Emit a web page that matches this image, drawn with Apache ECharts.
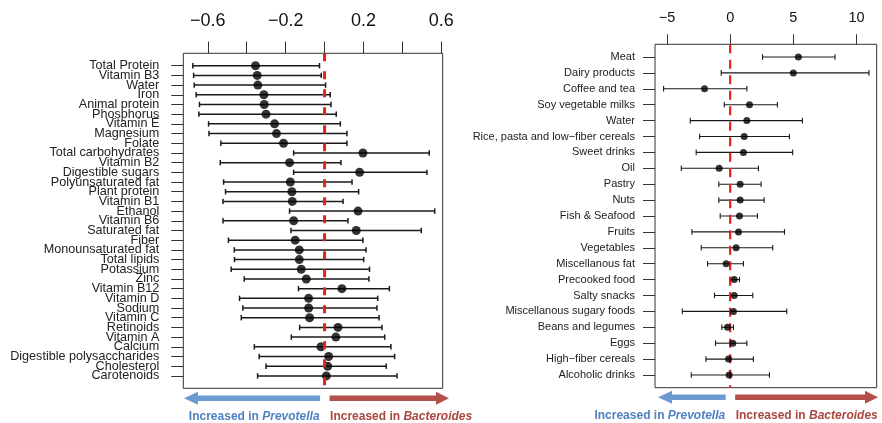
<!DOCTYPE html>
<html>
<head>
<meta charset="utf-8">
<script src="https://cdn.jsdelivr.net/npm/echarts@6/dist/echarts.min.js"></script>
<style>
  html, body { margin: 0; padding: 0; background: #ffffff; }
  #chart { width: 882px; height: 423px; }
</style>
</head>
<body>
<div id="chart"></div>
<script>
// Nutrients: effect estimate with lower / upper interval, listed top to bottom
const nutrients = ['Total Protein', 'Vitamin B3', 'Water', 'Iron', 'Animal protein', 'Phosphorus',
  'Vitamin E', 'Magnesium', 'Folate', 'Total carbohydrates', 'Vitamin B2', 'Digestible sugars',
  'Polyunsaturated fat', 'Plant protein', 'Vitamin B1', 'Ethanol', 'Vitamin B6', 'Saturated fat',
  'Fiber', 'Monounsaturated fat', 'Total lipids', 'Potassium', 'Zinc', 'Vitamin B12', 'Vitamin D',
  'Sodium', 'Vitamin C', 'Retinoids', 'Vitamin A', 'Calcium', 'Digestible polysaccharides',
  'Cholesterol', 'Carotenoids'];
const nutrientEstimate = [-0.355, -0.346, -0.343, -0.312, -0.310, -0.301, -0.257, -0.247, -0.211,
  0.197, -0.180, 0.180, -0.176, -0.168, -0.166, 0.172, -0.159, 0.163, -0.151, -0.130, -0.130,
  -0.120, -0.094, 0.089, -0.082, -0.082, -0.077, 0.069, 0.058, -0.019, 0.021, 0.016, 0.009];
const nutrientLower = [-0.677, -0.673, -0.670, -0.660, -0.643, -0.646, -0.596, -0.594, -0.533,
  -0.159, -0.536, -0.159, -0.519, -0.509, -0.522, -0.180, -0.522, -0.173, -0.494, -0.464, -0.463,
  -0.480, -0.413, -0.134, -0.437, -0.420, -0.428, -0.128, -0.171, -0.361, -0.336, -0.301, -0.344];
const nutrientUpper = [-0.026, -0.017, 0.005, 0.029, 0.033, 0.060, 0.081, 0.115, 0.115,
  0.538, 0.084, 0.526, 0.141, 0.175, 0.095, 0.566, 0.120, 0.497, 0.197, 0.213, 0.201,
  0.231, 0.228, 0.333, 0.273, 0.269, 0.280, 0.295, 0.309, 0.341, 0.360, 0.317, 0.372];
const nutrientTicks = [-0.6, -0.4, -0.2, 0, 0.2, 0.4, 0.6];
const nutrientTickLabels = [-0.6, -0.2, 0.2, 0.6];

// Food groups: effect estimate with lower / upper interval, listed top to bottom
const foods = ['Meat', 'Dairy products', 'Coffee and tea', 'Soy vegetable milks', 'Water',
  'Rice, pasta and low\u2212fiber cereals', 'Sweet drinks', 'Oil', 'Pastry', 'Nuts',
  'Fish & Seafood', 'Fruits', 'Vegetables', 'Miscellanous fat', 'Precooked food', 'Salty snacks',
  'Miscellanous sugary foods', 'Beans and legumes', 'Eggs', 'High\u2212fiber cereals', 'Alcoholic drinks'];
const foodEstimate = [5.40, 5.00, -2.03, 1.53, 1.32, 1.11, 1.05, -0.87, 0.79, 0.79, 0.74, 0.66,
  0.47, -0.32, 0.32, 0.32, 0.26, -0.21, 0.21, -0.13, -0.08];
const foodLower = [2.56, -0.71, -5.27, -0.47, -3.16, -2.42, -2.69, -3.87, -0.90, -0.90, -0.79,
  -3.03, -2.29, -1.79, 0.00, -1.24, -3.79, -0.66, -1.16, -1.92, -3.08];
const foodUpper = [8.30, 10.99, 1.32, 3.74, 5.72, 4.69, 4.95, 2.24, 2.45, 2.69, 2.16, 4.30,
  3.37, 1.05, 0.74, 1.79, 4.48, 0.26, 1.32, 1.84, 3.11];
const foodTicks = [-5, 0, 5, 10];

const INK = '#1a1a1a';
const FRAME = '#333333';
const ZERO_RED = '#e8201c';
const BLUE_ARROW = '#6c9bd2';
const RED_ARROW = '#b4504a';
const BLUE_TEXT = '#4e82c2';
const RED_TEXT = '#a94740';

// Pick a narrow face for the long nutrient names when one is installed
const measureCtx = document.createElement('canvas').getContext('2d');
function textWidth(font, s) { measureCtx.font = font; return measureCtx.measureText(s).width; }
const probe = 'Digestible polysaccharides';
const hasNarrow = textWidth('15px "Liberation Sans Narrow", monospace', probe) !== textWidth('15px monospace', probe);
const nutrientFont = hasNarrow ? '"Liberation Sans Narrow", "Liberation Sans", sans-serif' : '"Liberation Sans", Arial, sans-serif';
const nutrientFontSize = hasNarrow ? 15 : 12.6;
const baseFont = '"Liberation Sans", Arial, Helvetica, sans-serif';

const minusFmt = v => String(v).replace('-', '\u2212');

function rowIndexes(n, parity) {
  return Array.from({ length: n }, (_, i) => i).filter(i => i % 2 === parity);
}

function errorBarRenderer(capHalf, width) {
  return function (params, api) {
    const y = api.value(2);
    const a = api.coord([api.value(0), y]);
    const b = api.coord([api.value(1), y]);
    const style = { stroke: INK, lineWidth: width };
    return {
      type: 'group',
      children: [
        { type: 'line', shape: { x1: a[0], y1: a[1], x2: b[0], y2: b[1] }, style },
        { type: 'line', shape: { x1: a[0], y1: a[1] - capHalf, x2: a[0], y2: a[1] + capHalf }, style },
        { type: 'line', shape: { x1: b[0], y1: b[1] - capHalf, x2: b[0], y2: b[1] + capHalf }, style }
      ]
    };
  };
}

const nPad = 0.04 * (nutrients.length - 1);
const fPad = 0.04 * (foods.length - 1);

const chart = echarts.init(document.getElementById('chart'), null, { renderer: 'canvas' });

function topAxis(gridIndex, min, max, ticks, labels, fontSize, tickLen, margin) {
  return {
    gridIndex, type: 'value', position: 'top', min, max,
    axisLine: { show: false, onZero: false }, splitLine: { show: false },
    axisTick: { show: true, customValues: ticks, length: tickLen, lineStyle: { color: FRAME, width: 1 } },
    axisLabel: { customValues: labels, formatter: minusFmt, fontSize, color: '#111',
      fontFamily: baseFont, margin, showMinLabel: true, showMaxLabel: true }
  };
}

// Row names are packed tightly, so even and odd rows sit on two
// coincident axes; that way no neighbouring names get dropped.
function rowAxisPair(gridIndex, names, pad, fontFamily, fontSize, margin) {
  return [0, 1].map(parity => ({
    gridIndex, type: 'value', position: 'left', inverse: true, min: -pad, max: names.length - 1 + pad,
    axisLine: { show: false, onZero: false }, splitLine: { show: false },
    axisTick: { show: true, customValues: rowIndexes(names.length, parity), length: 12,
      lineStyle: { color: FRAME, width: 1 } },
    axisLabel: { customValues: rowIndexes(names.length, parity), formatter: v => names[Math.round(v)],
      fontSize, fontFamily, color: '#222', margin, showMinLabel: true, showMaxLabel: true }
  }));
}

chart.setOption({
  animation: false,
  backgroundColor: '#ffffff',
  grid: [
    { left: 183.3, top: 53.3, width: 259.4, height: 335, show: true, borderColor: FRAME, borderWidth: 1,
      backgroundColor: 'transparent', containLabel: false, outerBoundsMode: 'none' },
    { left: 655, top: 44.3, width: 221.7, height: 343.4, show: true, borderColor: FRAME, borderWidth: 1,
      backgroundColor: 'transparent', containLabel: false, outerBoundsMode: 'none' }
  ],
  xAxis: [
    topAxis(0, -0.726, 0.607, nutrientTicks, nutrientTickLabels, 18, 11.7, 23),
    topAxis(1, -5.95, 11.6, foodTicks, foodTicks, 14.5, 10, 19)
  ],
  // yAxis 0/1: nutrient rows, yAxis 2/3: food rows
  yAxis: [].concat(
    rowAxisPair(0, nutrients, nPad, nutrientFont, nutrientFontSize, 24),
    rowAxisPair(1, foods, fPad, baseFont, 11, 20)
  ),
  series: [
    {
      type: 'custom', xAxisIndex: 0, yAxisIndex: 0, z: 2,
      renderItem: errorBarRenderer(2.7, 1.5),
      encode: { x: [0, 1], y: 2 },
      data: nutrients.map((_, i) => [nutrientLower[i], nutrientUpper[i], i])
    },
    {
      type: 'scatter', xAxisIndex: 0, yAxisIndex: 0, z: 3,
      symbol: 'circle', symbolSize: 9, itemStyle: { color: '#000' },
      data: nutrientEstimate.map((v, i) => [v, i])
    },
    {
      type: 'line', xAxisIndex: 0, yAxisIndex: 0, z: 4, symbol: 'none', silent: true,
      lineStyle: { color: ZERO_RED, width: 3, type: [8, 10] },
      data: [[0, -nPad], [0, nutrients.length - 1 + nPad]]
    },
    {
      type: 'custom', xAxisIndex: 1, yAxisIndex: 2, z: 2,
      renderItem: errorBarRenderer(2.8, 1.1),
      encode: { x: [0, 1], y: 2 },
      data: foods.map((_, i) => [foodLower[i], foodUpper[i], i])
    },
    {
      type: 'line', xAxisIndex: 1, yAxisIndex: 2, z: 3, symbol: 'none', silent: true,
      lineStyle: { color: ZERO_RED, width: 2.2, type: [9, 6.5] },
      data: [[0, -fPad], [0, foods.length - 1 + fPad]]
    },
    {
      type: 'scatter', xAxisIndex: 1, yAxisIndex: 2, z: 4,
      symbol: 'circle', symbolSize: 7, itemStyle: { color: '#000' },
      data: foodEstimate.map((v, i) => [v, i])
    }
  ]
});

// Direction arrows and captions under each panel, anchored on the zero line
function arrowShape(x0, x1, y, headLen, headHalf, shaftHalf) {
  const dir = x1 > x0 ? 1 : -1;
  const xb = x1 - dir * headLen;
  return [[x1, y], [xb, y - headHalf], [xb, y - shaftHalf], [x0, y - shaftHalf],
          [x0, y + shaftHalf], [xb, y + shaftHalf], [xb, y + headHalf]];
}

function panelDecor(gridIdx, leftEnd, rightEnd, arrowY, textY) {
  const zero = chart.convertToPixel({ xAxisIndex: gridIdx }, 0);
  const boldStyle = { fontFamily: baseFont, fontWeight: 'bold', fontSize: 12 };
  const italicStyle = { fontFamily: baseFont, fontWeight: 'bold', fontStyle: 'italic', fontSize: 12 };
  return [
    { type: 'polygon', silent: true, shape: { points: arrowShape(zero - 4.5, leftEnd, arrowY, 14, 6.5, 2.8) },
      style: { fill: BLUE_ARROW } },
    { type: 'polygon', silent: true, shape: { points: arrowShape(zero + 5, rightEnd, arrowY, 13, 6.5, 2.8) },
      style: { fill: RED_ARROW } },
    { type: 'text', silent: true, x: zero - 5, y: textY,
      style: { text: '{a|Increased in }{b|Prevotella}', align: 'right', verticalAlign: 'middle',
        rich: { a: Object.assign({ fill: BLUE_TEXT }, boldStyle), b: Object.assign({ fill: BLUE_TEXT }, italicStyle) } } },
    { type: 'text', silent: true, x: zero + 5.5, y: textY,
      style: { text: '{a|Increased in }{b|Bacteroides}', align: 'left', verticalAlign: 'middle',
        rich: { a: Object.assign({ fill: RED_TEXT }, boldStyle), b: Object.assign({ fill: RED_TEXT }, italicStyle) } } }
  ];
}

chart.setOption({
  graphic: [].concat(panelDecor(0, 184, 449, 398.3, 417), panelDecor(1, 658, 878, 397.3, 416))
});
</script>
</body>
</html>
